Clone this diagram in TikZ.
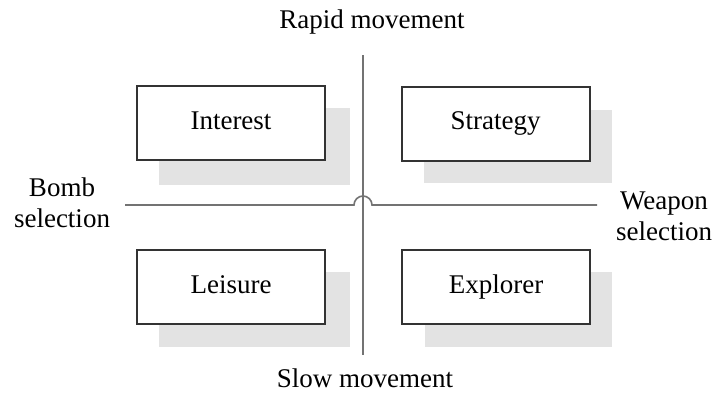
\documentclass[tikz,border=0pt]{standalone}
\usepackage{fontspec}
\setmainfont{Liberation Serif}
\begin{document}
\begin{tikzpicture}[x=1pt,y=-1pt,
  quad/.style={draw=black!80,line width=2pt,fill=white,minimum width=188pt,minimum height=74pt,inner sep=0pt,text height=18pt,text depth=6pt,font=\fontsize{27}{31}\selectfont},
  shade/.style={fill=black!11,draw=none},
  axis/.style={draw=black!55,line width=1.6pt},
  lbl/.style={font=\fontsize{27}{31}\selectfont,align=center,inner sep=0pt}]
\useasboundingbox (0,0) rectangle (714,392);
% shadows
\fill[shade] (159,108) rectangle (350,185);
\fill[shade] (424,110) rectangle (612,183);
\fill[shade] (159,272) rectangle (350,347);
\fill[shade] (425,272) rectangle (612,347);
% axes
\coordinate (vt) at (363,55);
\coordinate (vb) at (363,355);
\coordinate (hl) at (125,205);
\coordinate (hr) at (597,205);
\draw[axis] (vt) -- (vb);
\draw[axis] (hl) -- (354,205) arc[start angle=180,end angle=360,radius=9] -- (hr);
% boxes
\node[quad] (interest) at (231,123) {Interest};
\node[quad] (strategy) at (495.5,123.5) {Strategy};
\node[quad] (leisure) at (231,287) {Leisure};
\node[quad] (explorer) at (496,287) {Explorer};
% labels
\node[lbl] (rapid) at (372,22) {Rapid movement};
\node[lbl] (slow) at (365,378) {Slow movement};
\node[lbl] (bomb) at (62,203) {Bomb\\selection};
\node[lbl] (weapon) at (664,216) {Weapon\\selection};
\end{tikzpicture}
\end{document}
